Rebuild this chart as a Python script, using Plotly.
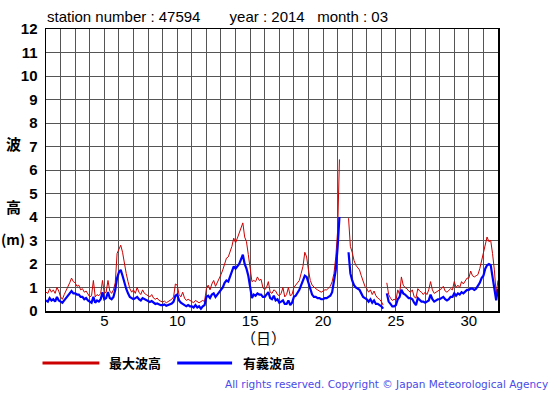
import plotly.graph_objects as go

# 3-hourly readings (8 per day), days 1..31, plus end point at day 32.0
max_wave = [
    0.8, 0.75, 0.95, 0.8, 0.9, 0.75, 1.0, 0.85,      # 1
    0.6, 0.5, 0.7, 0.85, 1.0, 1.2, 1.4, 1.25,        # 2
    1.2, 1.05, 1.1, 0.9, 0.95, 0.8, 0.85, 0.7,       # 3
    0.6, 0.65, 1.3, 0.6, 0.7, 0.65, 0.75, 1.3,       # 4
    0.75, 0.8, 1.3, 0.85, 0.75, 0.9, 1.2, 2.45,      # 5
    2.6, 2.8, 2.5, 2.0, 1.6, 1.25, 0.95, 0.8,        # 6
    0.9, 0.75, 1.0, 0.8, 0.7, 0.9, 0.75, 0.7,        # 7
    0.65, 0.6, 0.7, 0.55, 0.5, 0.55, 0.45, 0.4,      # 8
    0.38, 0.42, 0.35, 0.4, 0.45, 0.5, 0.6, 1.15,     # 9
    1.1, 0.7, 0.6, 0.8, 0.55, 0.45, 0.5, 0.45,       # 10
    0.4, 0.35, 0.45, 0.4, 0.35, 0.4, 0.45, 0.4,      # 11
    0.95, 1.1, 0.9, 1.15, 1.3, 1.05, 1.2, 1.4,       # 12
    1.55, 1.75, 2.0, 2.25, 2.3, 2.5, 2.75, 3.1,      # 13
    2.9, 3.1, 3.3, 3.5, 3.75, 3.15, 2.95, 2.4,       # 14
    1.9, 1.25, 1.3, 1.25, 1.45, 1.3, 1.35, 1.0,      # 15
    0.9, 1.0, 1.25, 0.8, 0.75, 0.9, 0.85, 0.7,       # 16
    0.65, 0.75, 1.0, 0.6, 0.7, 1.0, 0.65, 0.7,       # 17
    1.0, 1.1, 1.2, 1.3, 1.6, 1.9, 2.5, 2.3,          # 18
    1.75, 1.3, 1.1, 1.0, 0.95, 0.9, 0.85, 0.8,       # 19
    0.85, 0.9, 0.9, 1.0, 1.05, 1.25, 1.6, 2.3,       # 20
    3.4, 6.45, None, None, None, None, 3.95, 2.75,   # 21
    2.5, 2.15, 1.95, 1.85, 1.75, 1.5, 1.3, 1.05,     # 22
    0.95, 0.8, 0.9, 0.7, 0.85, 0.65, 0.55, 0.5,      # 23
    0.4, 0.25, None, 1.2, 0.7, 0.55, 0.45, 0.5,      # 24
    0.45, 0.9, 0.7, 1.45, 1.1, 1.0, 0.95, 0.85,      # 25
    0.8, 0.9, 0.6, 0.55, 0.95, 0.85, 0.8, 0.7,       # 26
    0.8, 0.7, 0.9, 1.25, 0.9, 0.75, 0.8, 0.85,       # 27
    0.9, 0.95, 1.05, 0.85, 0.8, 0.9, 0.95, 0.9,      # 28
    1.25, 1.0, 1.1, 1.0, 1.25, 1.15, 1.3, 1.4,       # 29
    1.4, 1.7, 1.5, 1.45, 1.5, 1.55, 1.8, 2.15,       # 30
    2.4, 2.7, 3.15, 2.95, 3.0, 2.45, 1.75, 0.75,     # 31
    1.3,                                             # 32.0
]
sig_wave = [
    0.45, 0.4, 0.55, 0.45, 0.5, 0.4, 0.6, 0.45,      # 1
    0.4, 0.35, 0.45, 0.55, 0.7, 0.75, 0.85, 0.75,    # 2
    0.75, 0.7, 0.7, 0.6, 0.6, 0.5, 0.55, 0.45,       # 3
    0.4, 0.35, 0.6, 0.35, 0.45, 0.4, 0.5, 0.8,       # 4
    0.5, 0.55, 0.8, 0.55, 0.5, 0.6, 0.9, 1.4,        # 5
    1.65, 1.75, 1.5, 1.2, 0.95, 0.75, 0.6, 0.55,     # 6
    0.5, 0.55, 0.6, 0.5, 0.45, 0.55, 0.5, 0.45,      # 7
    0.4, 0.38, 0.42, 0.35, 0.3, 0.32, 0.28, 0.25,    # 8
    0.25, 0.28, 0.22, 0.25, 0.3, 0.32, 0.4, 0.65,    # 9
    0.7, 0.45, 0.35, 0.3, 0.25, 0.2, 0.25, 0.2,      # 10
    0.2, 0.15, 0.25, 0.15, 0.2, 0.1, 0.2, 0.25,      # 11
    0.6, 0.65, 0.55, 0.7, 0.75, 0.6, 0.7, 0.8,       # 12
    0.9, 1.0, 1.2, 1.3, 1.25, 1.5, 1.75, 1.9,        # 13
    1.8, 1.9, 2.0, 2.2, 2.4, 2.0, 1.8, 1.5,          # 14
    1.05, 0.55, 0.7, 0.65, 0.75, 0.7, 0.7, 0.6,      # 15
    0.6, 0.7, 0.8, 0.55, 0.5, 0.65, 0.45, 0.5,       # 16
    0.35, 0.4, 0.45, 0.3, 0.3, 0.45, 0.25, 0.35,     # 17
    0.6, 0.65, 0.75, 0.9, 1.1, 1.3, 1.5, 1.45,       # 18
    1.2, 0.85, 0.7, 0.6, 0.6, 0.55, 0.55, 0.5,       # 19
    0.5, 0.55, 0.55, 0.6, 0.65, 0.8, 1.2, 1.75,      # 20
    2.7, 4.0, None, None, None, None, 2.5, 1.6,      # 21
    1.3, 1.1, 1.0, 0.95, 0.9, 0.75, 0.6, 0.55,       # 22
    0.5, 0.4, 0.5, 0.35, 0.45, 0.3, 0.3, 0.25,       # 23
    0.2, 0.1, None, 0.75, 0.4, 0.3, 0.2, 0.2,        # 24
    0.25, 0.5, 0.6, 0.9, 0.75, 0.7, 0.6, 0.55,       # 25
    0.55, 0.5, 0.35, 0.25, 0.55, 0.45, 0.4, 0.4,     # 26
    0.35, 0.4, 0.45, 0.7, 0.5, 0.4, 0.45, 0.5,       # 27
    0.5, 0.55, 0.6, 0.5, 0.45, 0.5, 0.6, 0.6,        # 28
    0.75, 0.65, 0.75, 0.7, 0.8, 0.75, 0.85, 0.9,     # 29
    0.9, 0.95, 0.95, 0.9, 0.95, 1.05, 1.2, 1.4,      # 30
    1.5, 1.8, 1.95, 2.0, 1.95, 1.45, 0.95, 0.45,     # 31
    0.95,                                            # 32.0
]
times = [1 + i / 8 for i in range(len(max_wave))]

x_ticks = [5, 10, 15, 20, 25, 30]
y_ticks = list(range(0, 13))

title_text = "station number : 47594&nbsp;&nbsp;&nbsp;&nbsp;&nbsp;&nbsp;&nbsp;year : 2014&nbsp;&nbsp;&nbsp;month : 03"
legend_names = ["最大波高", "有義波高"]
colors = ["#cc0000", "#0000ff"]
copyright_text = "All rights reserved. Copyright © Japan Meteorological Agency"

W, H = 555, 395
L, R, T, B = 45.5, 498.5, 28.5, 311

fig = go.Figure()
fig.add_trace(go.Scatter(x=times, y=max_wave, mode="lines", name=legend_names[0],
                         line=dict(color=colors[0], width=1), connectgaps=False,
                         hoverinfo="skip"))
fig.add_trace(go.Scatter(x=times, y=sig_wave, mode="lines", name=legend_names[1],
                         line=dict(color=colors[1], width=2.2), connectgaps=False,
                         hoverinfo="skip"))

grid_col = "#555555"
fig.update_xaxes(range=[1, 32], tickvals=x_ticks, ticks="", showgrid=True,
                 gridcolor=grid_col, gridwidth=1,
                 minor=dict(dtick=1, tick0=1, showgrid=True, gridcolor=grid_col, gridwidth=1),
                 showline=True, linecolor="black", linewidth=1.5, mirror=True,
                 zeroline=False, tickfont=dict(family="Liberation Sans", size=15, color="black"),
                 ticklabelstandoff=-5)
fig.update_yaxes(range=[0, 12], tickvals=y_ticks, ticks="", showgrid=True,
                 gridcolor=grid_col, gridwidth=1,
                 showline=True, linecolor="black", linewidth=1.5, mirror=True,
                 zeroline=False,
                 tickfont=dict(family="Liberation Sans", size=15, color="black", weight="bold"),
                 ticklabelstandoff=4)


def px_x(v):
    return (v - L) / (R - L)


def px_y(v):
    return (B - v) / (B - T)


annots = [
    dict(x=44, y=16, text=title_text, font=dict(family="Liberation Sans", size=15, color="black")),
    dict(x=263, y=338, text="（日）", xanchor="center",
         font=dict(family="Noto Sans CJK JP", size=15, color="black")),
    dict(x=13, y=143, text="波", xanchor="center",
         font=dict(family="Noto Sans CJK JP", size=15, weight="bold", color="black")),
    dict(x=13, y=206, text="高", xanchor="center",
         font=dict(family="Noto Sans CJK JP", size=15, weight="bold", color="black")),
    dict(x=12, y=239, text="(m)", xanchor="center",
         font=dict(family="Noto Sans CJK JP", size=14, weight="bold", color="black")),
    dict(x=107, y=363, text=legend_names[0],
         font=dict(family="Noto Sans CJK JP", size=13, weight="bold", color="black")),
    dict(x=241, y=363, text=legend_names[1],
         font=dict(family="Noto Sans CJK JP", size=13, weight="bold", color="black")),
    dict(x=551, y=384, text=copyright_text, xanchor="right",
         font=dict(family="DejaVu Sans", size=10.5, color="#4a4ae8")),
]
annotations = []
for a in annots:
    annotations.append(dict(xref="paper", yref="paper", showarrow=False,
                            xanchor=a.get("xanchor", "left"), yanchor="middle",
                            text=a["text"], font=a["font"],
                            x=px_x(a["x"]), y=px_y(a["y"])))

shapes = [
    dict(type="line", xref="paper", yref="paper", x0=px_x(42), x1=px_x(99),
         y0=px_y(363), y1=px_y(363), line=dict(color=colors[0], width=3)),
    dict(type="line", xref="paper", yref="paper", x0=px_x(177), x1=px_x(232),
         y0=px_y(363), y1=px_y(363), line=dict(color=colors[1], width=3)),
]

fig.update_layout(
    width=W, height=H,
    margin=dict(l=L, r=W - R, t=T, b=H - B, pad=0),
    paper_bgcolor="white", plot_bgcolor="white",
    showlegend=False,
    annotations=annotations,
    shapes=shapes,
    font=dict(family="Liberation Sans", color="black"),
)

fig.write_html("out.html", config={"displayModeBar": False, "staticPlot": True},
               post_script="document.body.style.margin='0';document.body.style.padding='0';")
